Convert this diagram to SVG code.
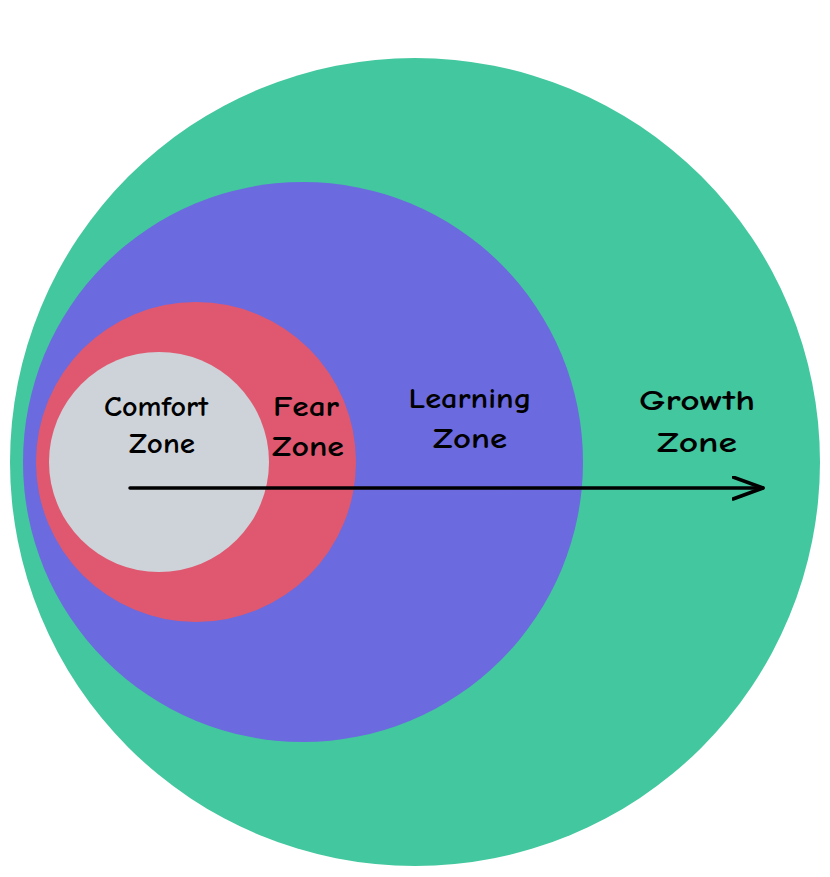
<svg xmlns="http://www.w3.org/2000/svg" width="830" height="877" viewBox="0 0 830 877">
<style>
.lbl{font-family:"Comic Neue","Open Sans","Liberation Sans",sans-serif;font-size:28px;font-weight:700;fill:#000;text-anchor:middle}
</style>
<defs>
<marker id="ah" markerWidth="40" markerHeight="30" refX="31" refY="12" orient="auto" markerUnits="userSpaceOnUse">
<path d="M1 1 L31 12 L1 23" fill="none" stroke="#000" stroke-width="3.5" stroke-linecap="round" stroke-linejoin="round"/>
</marker>
</defs>
<rect width="830" height="877" fill="#fff"/>
<g id="growth"><ellipse cx="415" cy="462" rx="405" ry="404" fill="#43c79e"/><text class="lbl" x="697" y="410" textLength="116" lengthAdjust="spacingAndGlyphs">Growth</text><text class="lbl" x="697" y="452" textLength="80" lengthAdjust="spacingAndGlyphs">Zone</text></g>
<g id="learning"><ellipse cx="303" cy="462" rx="280" ry="280" fill="#6b6ade"/><text class="lbl" x="470" y="408" textLength="123" lengthAdjust="spacingAndGlyphs">Learning</text><text class="lbl" x="470" y="448" textLength="74" lengthAdjust="spacingAndGlyphs">Zone</text></g>
<g id="fear"><ellipse cx="196" cy="462" rx="160" ry="160" fill="#e0586f"/><text class="lbl" x="306" y="416" textLength="66" lengthAdjust="spacingAndGlyphs">Fear</text><text class="lbl" x="308" y="456" textLength="72" lengthAdjust="spacingAndGlyphs">Zone</text></g>
<g id="comfort"><ellipse cx="159" cy="462" rx="110" ry="110" fill="#ced3da"/><text class="lbl" x="156" y="416" textLength="104" lengthAdjust="spacingAndGlyphs">Comfort</text><text class="lbl" x="162" y="453" textLength="66" lengthAdjust="spacingAndGlyphs">Zone</text></g>
<g id="connectors"><line x1="130" y1="488" x2="763" y2="488" stroke="#000" stroke-width="3.5" stroke-linecap="round" marker-end="url(#ah)"/></g>
</svg>
